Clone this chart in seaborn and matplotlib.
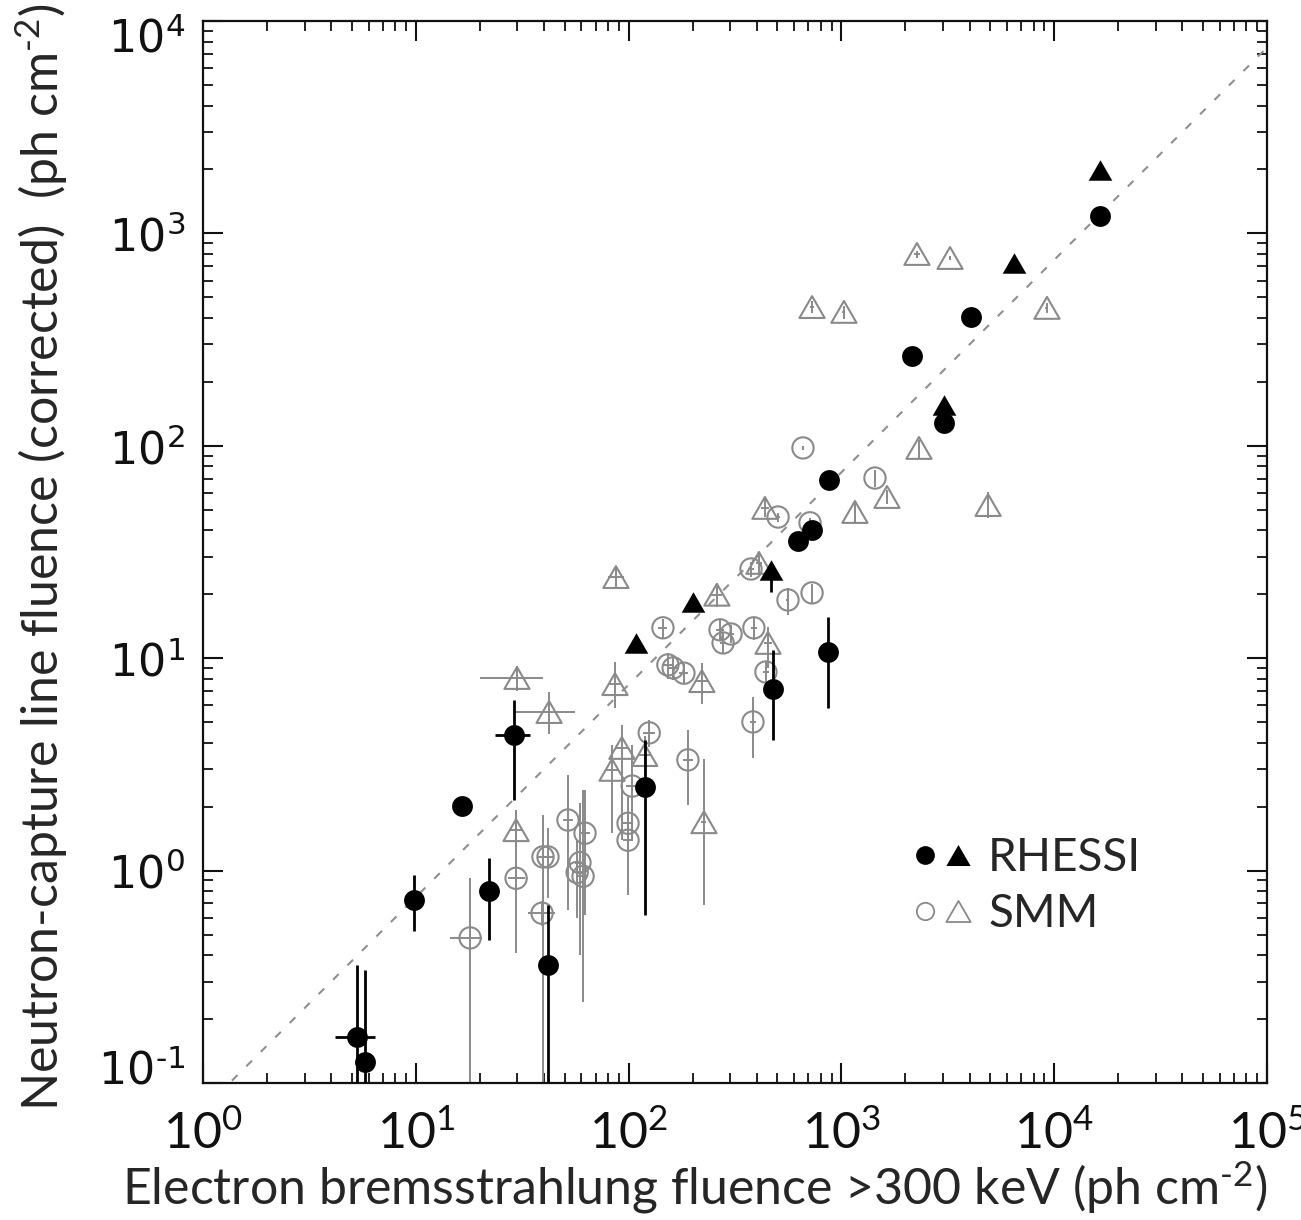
import numpy as np
import matplotlib
matplotlib.use("Agg")
import matplotlib.pyplot as plt
import matplotlib.ticker as mticker
from matplotlib.path import Path
from matplotlib.lines import Line2D
from matplotlib.legend_handler import HandlerTuple
from matplotlib.transforms import ScaledTranslation
import seaborn as sns

# ---------------- data ----------------
# RHESSI flares, circles: fluence values with error-bar bounds
rhessi_circ_x = [5.3, 5.77, 9.8, 16.5, 22.1, 28.9, 41.8, 119, 477, 865, 625, 728, 875, 3035, 2148, 4060, 16400]
rhessi_circ_y = [0.165, 0.126, 0.727, 2.01, 0.80, 4.35, 0.36, 2.48, 7.16, 10.7, 35.6, 40.2, 69, 128, 265, 403, 1208]
rhessi_circ_ylo = [0.01, 0.01, 0.52, 2.01, 0.47, 2.15, 0.01, 0.62, 4.12, 5.82, 35.6, 40.2, 69, 128, 265, 403, 1208]
rhessi_circ_yhi = [0.36, 0.34, 0.95, 2.01, 1.15, 6.35, 0.69, 4.12, 10.9, 15.6, 35.6, 40.2, 69, 128, 265, 403, 1208]
rhessi_circ_xlo = [4.17, 5.77, 9.8, 16.5, 22.1, 23.6, 41.8, 119, 477, 865, 625, 728, 875, 3035, 2148, 4060, 16400]
rhessi_circ_xhi = [6.44, 5.77, 9.8, 16.5, 22.1, 34.4, 41.8, 119, 477, 865, 625, 728, 875, 3035, 2148, 4060, 16400]

# RHESSI flares, triangles
rhessi_tri_x = [108, 201, 467, 3035, 6470, 16400]
rhessi_tri_y = [11.8, 18.4, 26.0, 156, 726, 1986]
rhessi_tri_ylo = [11.8, 18.4, 20.5, 156, 726, 1986]
rhessi_tri_yhi = [11.8, 18.4, 26.0, 156, 726, 1986]

# SMM flares, triangles
smm_tri_x = [29.9, 42.3, 87.2, 86.3, 29.6, 83.6, 93, 119, 221, 226, 260, 452, 437,
             728, 1028, 2265, 3240, 9250, 2315, 1158, 1638, 4890, 410]
smm_tri_y = [8.07, 5.58, 24.1, 7.55, 1.55, 2.98, 3.78, 3.5, 7.8, 1.69, 19.9, 11.8, 51,
             450, 427, 800, 766, 446, 97.7, 48.8, 57.4, 52.6, 28.1]
smm_tri_ylo = [7.0, 4.4, 21.5, 5.8, 1.25, 1.5, 1.4, 2.2, 6.1, 0.69, 17.5, 9.0, 46,
               420, 395, 770, 750, 420, 88, 43, 53, 45.7, 25]
smm_tri_yhi = [9.2, 6.9, 26.5, 9.6, 1.93, 3.9, 4.84, 4.3, 9.5, 3.35, 22.3, 14.0, 56,
               480, 455, 830, 782, 470, 106, 55, 62, 60.5, 31]
smm_tri_xlo = [20.0, 29.2, 80, 80, 27.5, 78, 87, 112, 205, 220, 245, 435, 420,
               715, 1010, 2200, 3200, 9100, 2290, 1150, 1620, 4850, 395]
smm_tri_xhi = [39.7, 55.9, 95, 93, 31.8, 90, 99, 126, 238, 232, 276, 470, 455,
               742, 1045, 2330, 3280, 9400, 2340, 1166, 1656, 4930, 425]

# SMM flares, circles
smm_circ_x = [18.0, 29.6, 39.6, 41.8, 39.2, 51.9, 62.4, 59.1, 61.1, 57.3, 99.4, 99.4, 125, 104,
              190, 384, 442, 145, 153, 162, 182, 269, 303, 278, 388, 561, 728, 660, 1438,
              504, 712, 376]
smm_circ_y = [0.482, 0.92, 1.16, 1.16, 0.63, 1.73, 1.50, 1.09, 0.94, 0.98, 1.67, 1.39, 4.45, 2.5,
              3.32, 5.01, 8.61, 13.9, 9.3, 9.0, 8.5, 13.6, 13.0, 11.8, 13.9, 18.8, 20.3, 97.7, 70.5,
              46.2, 43.4, 26.3]
smm_circ_ylo = [0.01, 0.41, 0.01, 0.74, 0.55, 0.65, 0.62, 0.40, 0.24, 0.6, 1.2, 0.77, 3.8, 1.4,
                2.03, 3.39, 7.6, 12.5, 8.0, 7.9, 7.6, 12.0, 11.8, 10.5, 12.2, 16.0, 18.2, 96, 64,
                44, 41, 24]
smm_circ_yhi = [0.92, 1.93, 1.83, 1.59, 0.72, 2.82, 2.40, 2.08, 2.39, 1.4, 2.22, 1.8, 5.1, 3.9,
                4.58, 6.55, 9.7, 15.3, 10.6, 10.2, 9.4, 15.2, 14.3, 13.1, 15.6, 21.5, 22.4, 99.5, 77,
                48.5, 45.8, 28.5]
smm_circ_xlo = [14.5, 27.0, 37, 39.5, 33.6, 49, 59, 56, 58, 54, 94, 94, 117, 97,
                180, 372, 428, 138, 145, 154, 173, 258, 292, 268, 376, 552, 718, 655, 1430,
                495, 700, 365]
smm_circ_xhi = [20.4, 32.5, 42, 44, 45.1, 55, 66, 62, 64, 60.5, 105, 105, 133, 111,
                200, 396, 456, 152, 161, 170, 191, 280, 314, 288, 400, 570, 738, 665, 1446,
                513, 724, 387]

# reference line: capture-line fluence = 0.075 x bremsstrahlung fluence
ref_x = [1.0, 1.0e5]
ref_y = [0.075, 7500.0]

HY = "\u2010"  # short hyphen for negative exponents
x_ticks = [1, 10, 100, 1000, 10000, 100000]
x_tick_labels = [r"$10^{0}$", r"$10^{1}$", r"$10^{2}$", r"$10^{3}$", r"$10^{4}$", r"$10^{5}$"]
y_ticks = [0.1, 1, 10, 100, 1000, 10000]
y_tick_labels = [r"$\mathsf{10^{" + HY + r"1}}$", r"$\mathsf{10^{0}}$", r"$\mathsf{10^{1}}$",
                 r"$\mathsf{10^{2}}$", r"$\mathsf{10^{3}}$", r"$\mathsf{10^{4}}$"]
x_label = r"Electron bremsstrahlung fluence >300 keV (ph cm$^{" + HY + r"2}$)"
y_label = r"Neutron-capture line fluence (corrected)  (ph cm$^{" + HY + r"2}$)"

# ---------------- style ----------------
sns.set_style("ticks")
plt.rcParams["font.family"] = ["Lato", "DejaVu Sans"]
plt.rcParams["mathtext.fontset"] = "custom"
plt.rcParams["mathtext.rm"] = "Lato"
plt.rcParams["mathtext.it"] = "Lato:italic"
plt.rcParams["mathtext.bf"] = "Lato:bold"
plt.rcParams["mathtext.sf"] = "DejaVu Sans"

BLACK = "#000000"
GRAY = "#8a8a8a"

tri_marker = Path([(-1, -0.866), (1, -0.866), (0, 0.866), (-1, -0.866)],
                  [Path.MOVETO, Path.LINETO, Path.LINETO, Path.CLOSEPOLY])

fig = plt.figure(figsize=(13.01, 12.20), dpi=100)
ax = fig.add_axes([0.15603, 0.11230, 0.81783, 0.87049])
ax.set_xscale("log")
ax.set_yscale("log")


def bounds_to_err(v, lo, hi):
    v = np.asarray(v, float)
    return np.vstack([v - np.asarray(lo, float), np.asarray(hi, float) - v])


# reference line
sns.lineplot(x=ref_x, y=ref_y, ax=ax, color="#8f8f8f", linewidth=1.5,
             linestyle=(0, (3.8, 6.0)), zorder=1)

# SMM error bars and hollow markers
ax.errorbar(smm_tri_x, smm_tri_y,
            yerr=bounds_to_err(smm_tri_y, smm_tri_ylo, smm_tri_yhi),
            xerr=bounds_to_err(smm_tri_x, smm_tri_xlo, smm_tri_xhi),
            fmt="none", ecolor=GRAY, elinewidth=1.4, capsize=0, zorder=2)
ax.errorbar(smm_circ_x, smm_circ_y,
            yerr=bounds_to_err(smm_circ_y, smm_circ_ylo, smm_circ_yhi),
            xerr=bounds_to_err(smm_circ_x, smm_circ_xlo, smm_circ_xhi),
            fmt="none", ecolor=GRAY, elinewidth=1.4, capsize=0, zorder=2)
sns.scatterplot(x=smm_tri_x, y=smm_tri_y, ax=ax, marker=tri_marker, s=330,
                color=GRAY, facecolor="none", edgecolor=GRAY, linewidth=1.5, zorder=3)
sns.scatterplot(x=smm_circ_x, y=smm_circ_y, ax=ax, marker="o", s=235,
                color=GRAY, facecolor="none", edgecolor=GRAY, linewidth=1.5, zorder=3)

# RHESSI error bars and filled markers
ax.errorbar(rhessi_circ_x, rhessi_circ_y,
            yerr=bounds_to_err(rhessi_circ_y, rhessi_circ_ylo, rhessi_circ_yhi),
            xerr=bounds_to_err(rhessi_circ_x, rhessi_circ_xlo, rhessi_circ_xhi),
            fmt="none", ecolor=BLACK, elinewidth=2.0, capsize=0, zorder=4)
ax.errorbar(rhessi_tri_x, rhessi_tri_y,
            yerr=bounds_to_err(rhessi_tri_y, rhessi_tri_ylo, rhessi_tri_yhi),
            fmt="none", ecolor=BLACK, elinewidth=2.0, capsize=0, zorder=4)
sns.scatterplot(x=rhessi_circ_x, y=rhessi_circ_y, ax=ax, marker="o", s=225,
                color=BLACK, edgecolor=BLACK, linewidth=0, zorder=5)
sns.scatterplot(x=rhessi_tri_x, y=rhessi_tri_y, ax=ax, marker=tri_marker, s=290,
                color=BLACK, edgecolor=BLACK, linewidth=0, zorder=5)

# ---------------- axes ----------------
ax.set_xlim(1, 1e5)
ax.set_ylim(0.1, 1e4)
ax.xaxis.set_major_locator(mticker.FixedLocator(x_ticks))
ax.xaxis.set_major_formatter(mticker.FixedFormatter(x_tick_labels))
ax.yaxis.set_major_locator(mticker.FixedLocator(y_ticks))
ax.yaxis.set_major_formatter(mticker.FixedFormatter(y_tick_labels))
ax.xaxis.set_minor_locator(mticker.LogLocator(base=10, subs=np.arange(2, 10), numticks=20))
ax.yaxis.set_minor_locator(mticker.LogLocator(base=10, subs=np.arange(2, 10), numticks=20))
ax.xaxis.set_minor_formatter(mticker.NullFormatter())
ax.yaxis.set_minor_formatter(mticker.NullFormatter())

for sp in ax.spines.values():
    sp.set_linewidth(1.6)
    sp.set_color("#111111")
    sp.set_visible(True)

ax.tick_params(which="both", direction="in", top=True, right=True, colors="#111111")
ax.tick_params(which="major", length=14.5, width=1.5)
ax.tick_params(which="minor", length=7.5, width=1.3)
ax.tick_params(axis="x", which="major", labelsize=36, pad=20)
ax.tick_params(axis="y", which="major", labelsize=32, pad=13)

# keep the end labels of the y axis inside the frame
yt = ax.yaxis.get_major_ticks()
yt[0].label1.set_transform(yt[0].label1.get_transform()
                           + ScaledTranslation(0, 16 / 100, fig.dpi_scale_trans))
yt[-1].label1.set_transform(yt[-1].label1.get_transform()
                            + ScaledTranslation(0, -14 / 100, fig.dpi_scale_trans))

ax.set_xlabel(x_label, fontsize=36)
ax.set_ylabel(y_label, fontsize=36)
ax.xaxis.set_label_coords(0.462, -0.072)
ax.yaxis.set_label_coords(-0.125, 0.495)

# ---------------- legend ----------------
h_rc = Line2D([], [], ls="none", marker="o", ms=13.5, mfc=BLACK, mec=BLACK, mew=0)
h_rt = Line2D([], [], ls="none", marker=tri_marker, ms=17.5, mfc=BLACK, mec=BLACK, mew=0)
h_sc = Line2D([], [], ls="none", marker="o", ms=12.5, mfc="none", mec=GRAY, mew=1.3)
h_st = Line2D([], [], ls="none", marker=tri_marker, ms=17.5, mfc="none", mec=GRAY, mew=1.3)
ax.legend([(h_rc, h_rt), (h_sc, h_st)], ["RHESSI", "SMM"],
          handler_map={tuple: HandlerTuple(ndivide=None, pad=0)},
          numpoints=1, fontsize=33, frameon=False, loc="center left",
          bbox_to_anchor=(0.663, 0.1855), borderpad=0, borderaxespad=0,
          handlelength=1.44, handletextpad=0.3, labelspacing=0.3)

fig.savefig("out.png", dpi=100)
